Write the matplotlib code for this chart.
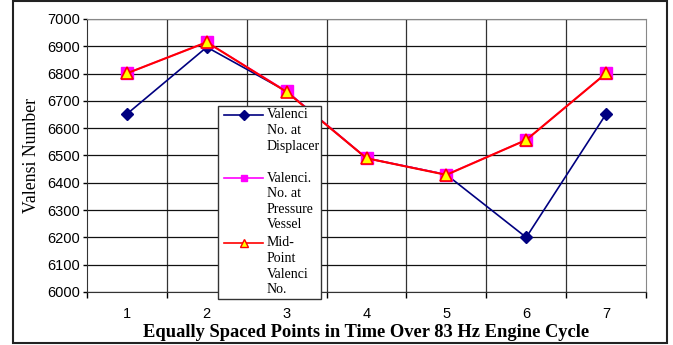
import matplotlib
matplotlib.use("Agg")
import matplotlib.pyplot as plt
from matplotlib.lines import Line2D
from matplotlib.patches import Rectangle

points = [1, 2, 3, 4, 5, 6, 7]
displacer = [6652, 6897, 6735, 6490, 6430, 6200, 6652]
pressure_vessel = [6801, 6915, 6735, 6490, 6430, 6557, 6801]
mid_point = [6801, 6915, 6733, 6490, 6429, 6557, 6801]
y_ticks = [6000, 6100, 6200, 6300, 6400, 6500, 6600, 6700, 6800, 6900, 7000]

W, H = 673, 345
fig = plt.figure(figsize=(W / 100, H / 100), dpi=100)


def fx(px):
    return px / W


def fy(py):
    return 1 - py / H


# outer chart border
fig.patches.append(Rectangle((fx(13), fy(343)), fx(667) - fx(13), fy(1) - fy(343),
                             transform=fig.transFigure, fill=False,
                             edgecolor="#222222", linewidth=1.5))

ax = fig.add_axes([fx(87), fy(292), fx(646) - fx(87), fy(19) - fy(292)])
ax.set_xlim(0.5, 7.5)
ax.set_ylim(6000, 7000)

ax.set_yticks(y_ticks)
ax.set_yticklabels([str(v) for v in y_ticks], fontfamily="Liberation Sans", fontsize=10.5)
ax.set_xticks(points)
ax.set_xticklabels([str(p) for p in points], fontfamily="Liberation Sans", fontsize=10.5)
ax.tick_params(axis="x", length=0, pad=11)
ax.tick_params(axis="y", length=3, width=1, direction="out", pad=2)

# vertical grid on category boundaries, with small outward ticks
bounds = [p + 0.5 for p in points[:-1]]
for b in bounds:
    ax.axvline(b, color="#333333", linewidth=0.9, zorder=0)
ax.set_xticks([0.5] + bounds + [7.5], minor=True)
ax.tick_params(axis="x", which="minor", length=4, width=1, direction="out")
for v in y_ticks:
    ax.axhline(v, color="#111111", linewidth=0.9, zorder=0)

for side in ["top", "right"]:
    ax.spines[side].set_color("#888888")
ax.spines["left"].set_color("#333333")
ax.spines["bottom"].set_color("#333333")

ax.plot(points, displacer, color="#000080", linewidth=1.2, marker="D",
        markersize=6, markerfacecolor="#000080", markeredgecolor="#000080", zorder=3)
ax.plot(points, pressure_vessel, color="#FF00FF", linewidth=1.2, marker="s",
        markersize=9, markerfacecolor="#FF00FF", markeredgecolor="#FF00FF", zorder=4)
ax.plot(points, mid_point, color="#FF0000", linewidth=1.5, marker="^",
        markersize=8, markerfacecolor="#FFFF00", markeredgecolor="#FF0000",
        markeredgewidth=1.2, zorder=5)

ax.set_ylabel("Valensi Number", fontfamily="Liberation Serif", fontsize=12.8, labelpad=5)
ax.set_xlabel("Equally Spaced Points in Time Over 83 Hz Engine Cycle",
              fontfamily="Liberation Serif", fontweight="bold", fontsize=13.3, labelpad=2)

# legend box
fig.patches.append(Rectangle((fx(218), fy(299)), fx(321) - fx(218), fy(106) - fy(299),
                             transform=fig.transFigure, facecolor="white",
                             edgecolor="#333333", linewidth=1.0, zorder=10))
entries = [
    (["Valenci", "No. at", "Displacer"], 115,
     dict(color="#000080", marker="D", markersize=5, markerfacecolor="#000080",
          markeredgecolor="#000080", linewidth=1.2)),
    (["Valenci.", "No. at", "Pressure", "Vessel"], 178,
     dict(color="#FF00FF", marker="s", markersize=5, markerfacecolor="#FF00FF",
          markeredgecolor="#FF00FF", linewidth=1.2)),
    (["Mid-", "Point", "Valenci", "No."], 243,
     dict(color="#FF0000", marker="^", markersize=6, markerfacecolor="#FFFF00",
          markeredgecolor="#FF0000", linewidth=1.2)),
]
for lines, y0, style in entries:
    ln = Line2D([fx(224), fx(243.5), fx(263)], [fy(y0)] * 3, transform=fig.transFigure,
                markevery=[1], zorder=11, **style)
    fig.lines.append(ln)
    for i, t in enumerate(lines):
        fig.text(fx(267), fy(y0 + i * 15.6), t, fontfamily="Liberation Serif",
                 fontsize=10, va="center", ha="left", zorder=12)

fig.savefig("out.png", dpi=100)
